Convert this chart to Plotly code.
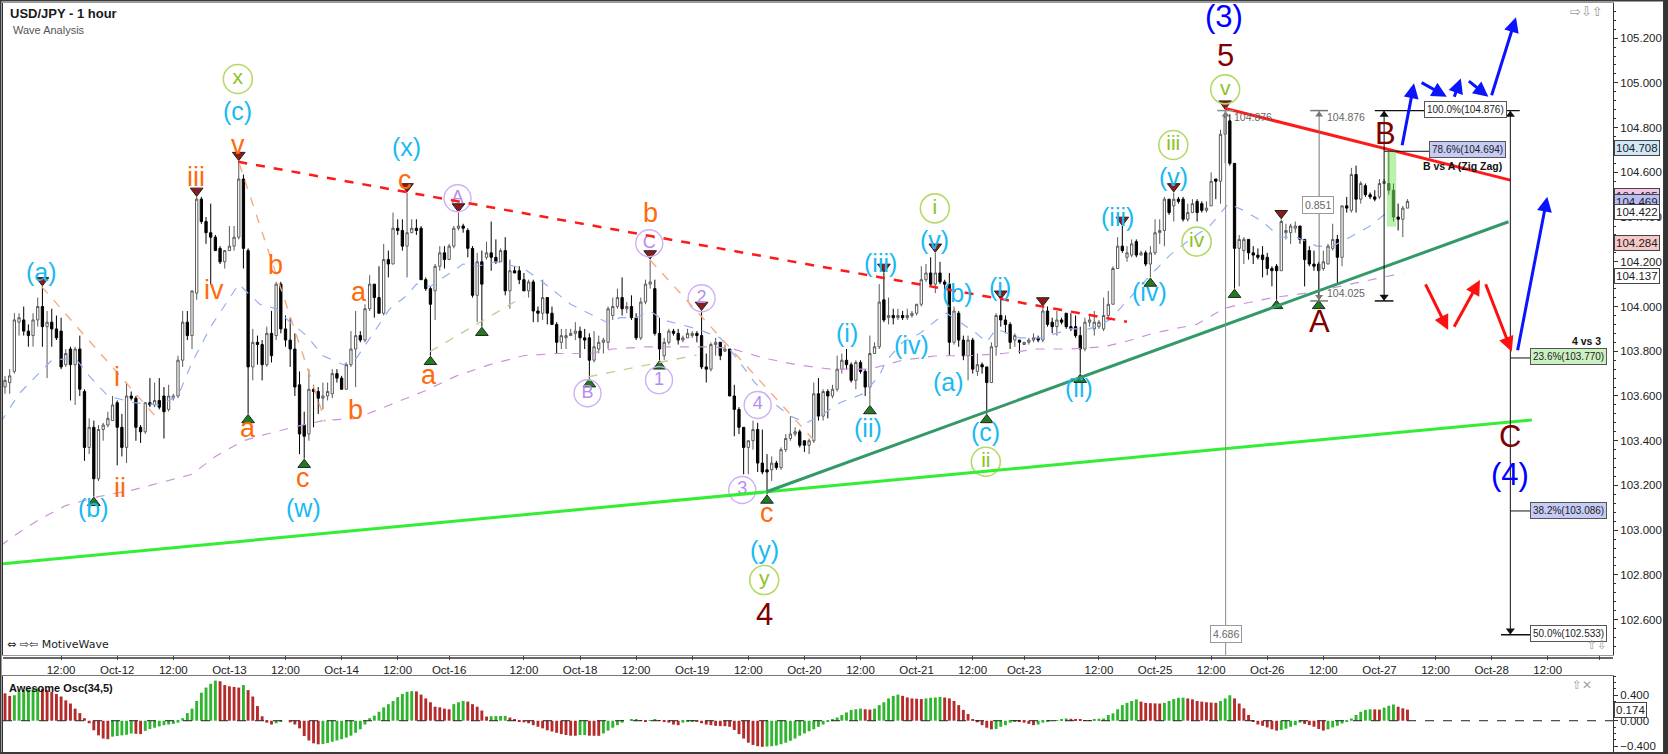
import plotly.graph_objects as go

FONT = "Liberation Sans, Arial, sans-serif"

# hourly bars, bar 0 = Oct-11 00:00 (weekend hours are left out, as on the platform)
opens = [
    103.64, 103.66, 103.71, 103.93, 103.94, 103.89, 103.87, 103.94, 104.00, 103.91,
    103.93, 103.90, 103.89, 103.74, 103.81, 103.74, 103.81, 103.62, 103.37, 103.46,
    103.23, 103.45, 103.47, 103.49, 103.57, 103.46, 103.37, 103.60, 103.59, 103.46,
    103.44, 103.57, 103.56, 103.58, 103.60, 103.54, 103.59, 103.60, 103.76, 103.93,
    103.87, 104.06, 104.48, 104.38, 104.33, 104.31, 104.26, 104.20, 104.25, 104.27,
    104.31, 104.57, 104.25, 103.73, 103.84, 103.83, 103.74, 103.88, 103.87, 104.10,
    103.90, 103.85, 103.81, 103.65, 103.47, 103.43, 103.63, 103.62, 103.59, 103.60,
    103.61, 103.70, 103.68, 103.63, 103.74, 103.81, 103.87, 103.85, 103.99, 104.10,
    104.04, 103.97, 104.21, 104.19, 104.35, 104.34, 104.27, 104.33, 104.35, 104.35,
    104.12, 104.08, 104.07, 104.18, 104.24, 104.21, 104.27, 104.35, 104.36, 104.34,
    104.26, 104.05, 104.20, 104.22, 104.24, 104.22, 104.20, 104.25, 104.07, 104.16,
    104.16, 104.12, 104.07, 104.11, 103.98, 103.97, 104.04, 103.97, 103.92, 103.84,
    103.86, 103.87, 103.88, 103.89, 103.86, 103.86, 103.76, 103.81, 103.84, 103.84,
    103.96, 104.00, 104.04, 103.99, 104.00, 103.95, 103.86, 104.02, 104.10, 104.08,
    103.88, 103.78, 103.84, 103.89, 103.88, 103.85, 103.86, 103.87, 103.88, 103.87,
    103.73, 103.72, 103.83, 103.84, 103.80, 103.81, 103.60, 103.54, 103.46, 103.37,
    103.40, 103.45, 103.30, 103.27, 103.27, 103.30, 103.28, 103.36, 103.41, 103.43,
    103.44, 103.40, 103.38, 103.40, 103.61, 103.51, 103.62, 103.60, 103.63, 103.72,
    103.76, 103.74, 103.67, 103.75, 103.71, 103.64, 103.79, 103.82, 104.03, 103.95,
    103.96, 103.95, 103.96, 103.95, 103.96, 103.97, 104.01, 104.12, 104.15, 104.10,
    104.15, 104.11, 104.10, 103.84, 103.97, 103.85, 103.78, 103.85, 103.71, 103.74,
    103.73, 103.66, 103.82, 103.96, 103.94, 103.92, 103.85, 103.85, 103.83, 103.84,
    103.85, 103.86, 103.85, 103.98, 103.93, 103.91, 103.94, 103.97, 103.91, 103.91,
    103.87, 103.81, 103.93, 103.90, 103.91, 103.90, 103.96, 104.01, 104.17, 104.27,
    104.22, 104.23, 104.29, 104.23, 104.24, 104.19, 104.24, 104.33, 104.34, 104.48,
    104.45, 104.48, 104.48, 104.39, 104.42, 104.47, 104.46, 104.43, 104.45, 104.57,
    104.56, 104.77, 104.83, 104.64, 104.26, 104.25, 104.30, 104.24, 104.23, 104.23,
    104.22, 104.17, 104.18, 104.16, 104.33, 104.33, 104.35, 104.36, 104.30, 104.25,
    104.19, 104.19, 104.17, 104.19, 104.26, 104.30, 104.22, 104.45, 104.43, 104.59,
    104.48, 104.54, 104.50, 104.49, 104.49, 104.55, 104.55, 104.52, 104.40, 104.39,
    104.44,
]
highs = [
    103.69, 103.72, 103.97, 103.97, 104.00, 103.92, 103.97, 104.04, 104.09, 103.98,
    103.99, 103.96, 103.95, 103.81, 103.82, 103.82, 103.87, 103.63, 103.50, 103.49,
    103.47, 103.48, 103.53, 103.60, 103.58, 103.52, 103.66, 103.62, 103.60, 103.47,
    103.57, 103.68, 103.66, 103.68, 103.64, 103.65, 103.61, 103.78, 103.98, 103.98,
    104.07, 104.49, 104.49, 104.40, 104.46, 104.32, 104.27, 104.25, 104.36, 104.36,
    104.65, 104.59, 104.26, 103.90, 103.87, 103.85, 103.91, 103.98, 104.11, 104.11,
    103.96, 103.95, 103.88, 103.71, 103.53, 103.72, 103.65, 103.64, 103.66, 103.66,
    103.72, 103.72, 103.69, 103.75, 103.89, 103.98, 103.89, 104.01, 104.14, 104.10,
    104.18, 104.28, 104.25, 104.42, 104.39, 104.39, 104.51, 104.39, 104.39, 104.36,
    104.13, 104.09, 104.19, 104.27, 104.27, 104.28, 104.36, 104.42, 104.37, 104.35,
    104.27, 104.24, 104.25, 104.29, 104.38, 104.30, 104.26, 104.31, 104.21, 104.18,
    104.18, 104.15, 104.12, 104.12, 104.00, 104.12, 104.04, 104.00, 103.93, 103.90,
    103.90, 103.90, 103.93, 103.91, 103.90, 103.88, 103.89, 103.87, 103.86, 104.00,
    104.04, 104.08, 104.13, 104.02, 104.05, 103.97, 104.04, 104.12, 104.21, 104.12,
    103.95, 103.86, 103.90, 103.90, 103.90, 103.87, 103.90, 103.89, 103.89, 103.98,
    103.79, 103.84, 103.86, 103.84, 103.83, 103.81, 103.65, 103.55, 103.46, 103.40,
    103.49, 103.48, 103.45, 103.34, 103.33, 103.31, 103.37, 103.43, 103.51, 103.46,
    103.45, 103.40, 103.41, 103.66, 103.68, 103.63, 103.63, 103.65, 103.78, 103.79,
    103.81, 103.75, 103.76, 103.76, 103.72, 103.87, 103.84, 104.10, 104.15, 104.04,
    103.99, 103.99, 103.98, 103.99, 103.98, 104.01, 104.18, 104.19, 104.22, 104.24,
    104.20, 104.12, 104.15, 104.00, 103.98, 103.87, 103.87, 103.86, 103.79, 103.75,
    103.73, 103.84, 103.97, 104.03, 103.96, 103.93, 103.88, 103.85, 103.84, 103.86,
    103.88, 103.87, 104.00, 104.00, 103.95, 103.98, 103.95, 103.97, 103.97, 103.96,
    103.91, 103.95, 103.96, 103.98, 103.94, 104.04, 104.07, 104.18, 104.31, 104.36,
    104.27, 104.30, 104.30, 104.25, 104.25, 104.27, 104.39, 104.39, 104.49, 104.48,
    104.51, 104.49, 104.49, 104.46, 104.48, 104.48, 104.47, 104.47, 104.60, 104.57,
    104.79, 104.88, 104.86, 104.64, 104.32, 104.31, 104.30, 104.27, 104.26, 104.27,
    104.24, 104.18, 104.19, 104.39, 104.37, 104.37, 104.38, 104.36, 104.30, 104.27,
    104.25, 104.20, 104.25, 104.28, 104.37, 104.32, 104.45, 104.49, 104.62, 104.63,
    104.56, 104.55, 104.51, 104.52, 104.57, 104.57, 104.69, 104.55, 104.46, 104.45,
    104.48,
]
lows = [
    103.61, 103.61, 103.70, 103.87, 103.87, 103.82, 103.82, 103.91, 103.82, 103.68,
    103.82, 103.85, 103.72, 103.73, 103.58, 103.56, 103.60, 103.31, 103.34, 103.15,
    103.22, 103.40, 103.46, 103.49, 103.29, 103.33, 103.30, 103.58, 103.40, 103.39,
    103.43, 103.55, 103.55, 103.54, 103.41, 103.53, 103.58, 103.59, 103.73, 103.85,
    103.81, 104.03, 104.37, 104.28, 104.10, 104.25, 104.19, 104.17, 104.25, 104.25,
    104.30, 104.17, 103.52, 103.67, 103.74, 103.67, 103.73, 103.75, 103.85, 103.88,
    103.82, 103.73, 103.60, 103.34, 103.32, 103.40, 103.46, 103.52, 103.54, 103.58,
    103.59, 103.66, 103.63, 103.63, 103.73, 103.64, 103.84, 103.84, 103.98, 103.95,
    103.97, 103.96, 104.13, 104.19, 104.32, 104.25, 104.13, 104.33, 104.32, 104.12,
    104.07, 103.78, 103.94, 104.16, 104.17, 104.21, 104.26, 104.34, 104.33, 104.22,
    104.04, 103.93, 103.91, 104.21, 104.16, 104.19, 104.20, 104.05, 103.99, 104.15,
    104.10, 104.07, 104.04, 103.93, 103.93, 103.94, 103.92, 103.92, 103.79, 103.81,
    103.81, 103.87, 103.85, 103.77, 103.81, 103.68, 103.75, 103.79, 103.79, 103.81,
    103.94, 103.99, 103.96, 103.97, 103.94, 103.85, 103.85, 104.01, 104.08, 103.87,
    103.76, 103.76, 103.83, 103.87, 103.83, 103.84, 103.86, 103.86, 103.84, 103.72,
    103.66, 103.71, 103.78, 103.76, 103.80, 103.60, 103.42, 103.43, 103.25, 103.25,
    103.36, 103.26, 103.25, 103.16, 103.22, 103.27, 103.27, 103.35, 103.40, 103.42,
    103.37, 103.35, 103.34, 103.39, 103.49, 103.49, 103.50, 103.59, 103.62, 103.70,
    103.72, 103.66, 103.63, 103.70, 103.60, 103.56, 103.79, 103.81, 103.93, 103.92,
    103.92, 103.94, 103.94, 103.94, 103.95, 103.96, 104.00, 104.11, 104.09, 104.06,
    104.10, 104.07, 103.78, 103.83, 103.82, 103.76, 103.67, 103.70, 103.69, 103.70,
    103.52, 103.66, 103.78, 103.91, 103.88, 103.81, 103.82, 103.79, 103.83, 103.83,
    103.84, 103.84, 103.84, 103.91, 103.88, 103.87, 103.92, 103.90, 103.89, 103.86,
    103.70, 103.80, 103.91, 103.87, 103.90, 103.89, 103.94, 104.01, 104.17, 104.24,
    104.20, 104.22, 104.22, 104.23, 104.18, 104.13, 104.23, 104.28, 104.27, 104.41,
    104.38, 104.46, 104.38, 104.38, 104.42, 104.38, 104.42, 104.42, 104.45, 104.48,
    104.46, 104.64, 104.63, 104.08, 104.09, 104.19, 104.21, 104.19, 104.21, 104.13,
    104.14, 104.09, 104.03, 104.16, 104.30, 104.28, 104.33, 104.28, 104.09, 104.18,
    104.16, 104.03, 104.16, 104.19, 104.25, 104.10, 104.18, 104.42, 104.42, 104.42,
    104.46, 104.49, 104.48, 104.47, 104.48, 104.55, 104.50, 104.38, 104.34, 104.31,
    104.44,
]
closes = [
    103.67, 103.69, 103.94, 103.95, 103.89, 103.87, 103.94, 104.00, 103.91, 103.93,
    103.90, 103.86, 103.73, 103.79, 103.74, 103.81, 103.63, 103.37, 103.46, 103.23,
    103.45, 103.47, 103.50, 103.56, 103.46, 103.37, 103.60, 103.59, 103.46, 103.44,
    103.57, 103.56, 103.58, 103.55, 103.53, 103.60, 103.60, 103.76, 103.93, 103.87,
    104.07, 104.48, 104.38, 104.33, 104.31, 104.25, 104.20, 104.25, 104.27, 104.31,
    104.57, 104.26, 103.73, 103.84, 103.83, 103.74, 103.88, 103.78, 104.10, 103.90,
    103.85, 103.81, 103.64, 103.43, 103.42, 103.63, 103.62, 103.59, 103.60, 103.62,
    103.70, 103.68, 103.63, 103.74, 103.81, 103.87, 103.85, 103.99, 104.10, 104.04,
    103.97, 104.21, 104.19, 104.35, 104.34, 104.27, 104.33, 104.35, 104.34, 104.12,
    104.08, 104.01, 104.18, 104.24, 104.21, 104.27, 104.35, 104.36, 104.35, 104.26,
    104.05, 104.20, 104.10, 104.24, 104.22, 104.20, 104.25, 104.07, 104.16, 104.15,
    104.12, 104.07, 104.11, 103.98, 103.97, 104.04, 103.97, 103.92, 103.84, 103.87,
    103.87, 103.88, 103.89, 103.86, 103.85, 103.76, 103.82, 103.84, 103.85, 103.99,
    104.00, 104.04, 103.99, 104.00, 103.95, 103.86, 104.02, 104.10, 104.11, 103.88,
    103.81, 103.84, 103.89, 103.88, 103.85, 103.86, 103.88, 103.88, 103.87, 103.73,
    103.72, 103.83, 103.84, 103.78, 103.81, 103.60, 103.54, 103.46, 103.37, 103.40,
    103.45, 103.30, 103.26, 103.26, 103.30, 103.28, 103.36, 103.41, 103.43, 103.44,
    103.38, 103.38, 103.40, 103.61, 103.51, 103.62, 103.60, 103.63, 103.72, 103.76,
    103.74, 103.67, 103.75, 103.71, 103.64, 103.79, 103.82, 104.02, 103.94, 103.96,
    103.95, 103.96, 103.95, 103.96, 103.97, 104.01, 104.12, 104.15, 104.10, 104.15,
    104.11, 104.10, 103.84, 103.98, 103.85, 103.78, 103.85, 103.72, 103.74, 103.73,
    103.66, 103.82, 103.96, 103.94, 103.92, 103.84, 103.87, 103.84, 103.84, 103.85,
    103.86, 103.85, 103.98, 103.92, 103.91, 103.94, 103.93, 103.91, 103.90, 103.87,
    103.81, 103.93, 103.94, 103.93, 103.93, 103.96, 104.01, 104.17, 104.27, 104.25,
    104.24, 104.28, 104.23, 104.24, 104.19, 104.24, 104.33, 104.34, 104.48, 104.42,
    104.48, 104.47, 104.39, 104.42, 104.46, 104.42, 104.43, 104.44, 104.56, 104.56,
    104.77, 104.85, 104.64, 104.26, 104.30, 104.30, 104.24, 104.23, 104.22, 104.21,
    104.17, 104.16, 104.16, 104.38, 104.34, 104.36, 104.36, 104.30, 104.21, 104.19,
    104.18, 104.16, 104.20, 104.27, 104.30, 104.22, 104.45, 104.44, 104.59, 104.48,
    104.55, 104.50, 104.49, 104.48, 104.55, 104.56, 104.52, 104.40, 104.39, 104.44,
    104.47,
]

# Awesome Oscillator (34,5), one value per bar
ao = [
    0.43, 0.39, 0.40, 0.45, 0.48, 0.49, 0.50, 0.51, 0.50, 0.48,
    0.45, 0.42, 0.38, 0.32, 0.27, 0.19, 0.12, 0.04, -0.04, -0.15,
    -0.23, -0.28, -0.29, -0.25, -0.24, -0.23, -0.22, -0.20, -0.205, -0.21,
    -0.16, -0.13, -0.11, -0.09, -0.07, -0.06, -0.05, -0.03, 0.04, 0.12,
    0.19, 0.31, 0.44, 0.52, 0.58, 0.63, 0.62, 0.56, 0.54, 0.53,
    0.52, 0.56, 0.48, 0.38, 0.23, 0.07, -0.03, -0.06, -0.04, -0.015,
    0.0, -0.025, -0.06, -0.12, -0.24, -0.31, -0.355, -0.37, -0.365, -0.35,
    -0.33, -0.31, -0.29, -0.265, -0.235, -0.19, -0.135, -0.06, 0.04, 0.08,
    0.14, 0.21, 0.26, 0.31, 0.37, 0.42, 0.455, 0.465, 0.46, 0.41,
    0.35, 0.29, 0.22, 0.21, 0.19, 0.18, 0.26, 0.29, 0.31, 0.30,
    0.26, 0.22, 0.16, 0.065, 0.07, 0.072, 0.074, 0.076, 0.05, 0.02,
    -0.005, -0.025, -0.04, -0.07, -0.095, -0.12, -0.15, -0.17, -0.19, -0.21,
    -0.225, -0.235, -0.236, -0.225, -0.224, -0.235, -0.236, -0.237, -0.20, -0.155,
    -0.11, -0.07, -0.03, 0.0, 0.015, 0.02, 0.01, -0.015, 0.01, 0.02,
    0.01, -0.015, -0.03, -0.06, -0.07, -0.03, -0.015, -0.005, -0.02, -0.04,
    -0.06, -0.07, -0.08, -0.085, -0.086, -0.095, -0.145, -0.21, -0.28, -0.345,
    -0.38, -0.40, -0.41, -0.405, -0.40, -0.39, -0.37, -0.345, -0.315, -0.28,
    -0.235, -0.20, -0.165, -0.135, -0.095, -0.06, -0.015, 0.02, 0.05, 0.09,
    0.13, 0.17, 0.18, 0.19, 0.18, 0.175, 0.19, 0.245, 0.29, 0.35,
    0.39, 0.41, 0.39, 0.365, 0.35, 0.345, 0.34, 0.35, 0.36, 0.365,
    0.375, 0.365, 0.35, 0.31, 0.245, 0.17, 0.105, 0.02, -0.025, -0.07,
    -0.11, -0.135, -0.13, -0.095, -0.07, -0.03, -0.005, -0.015, -0.03, -0.05,
    -0.07, -0.06, -0.03, -0.015, 0.0, 0.01, 0.025, 0.035, 0.03, 0.025,
    0.02, 0.01, 0.005, 0.02, 0.03, 0.035, 0.09, 0.115, 0.18, 0.245,
    0.28, 0.31, 0.335, 0.30, 0.28, 0.275, 0.272, 0.27, 0.28, 0.31,
    0.34, 0.36, 0.362, 0.35, 0.335, 0.31, 0.30, 0.29, 0.285, 0.28,
    0.31, 0.35, 0.40, 0.35, 0.27, 0.195, 0.09, -0.015, -0.06, -0.08,
    -0.105, -0.135, -0.155, -0.145, -0.125, -0.095, -0.07, -0.03, -0.05, -0.07,
    -0.095, -0.13, -0.155, -0.135, -0.105, -0.08, -0.045, -0.015, 0.035, 0.09,
    0.14, 0.17, 0.18, 0.178, 0.175, 0.205, 0.235, 0.255, 0.22, 0.195,
    0.174,
]

# time axis: bar index of each label
tick_bars = [12, 24, 36, 48, 60, 72, 84, 95, 111, 123, 135, 147, 159, 171,
             183, 195, 207, 218, 234, 246, 258, 270, 282, 294, 306, 318, 330, 341]
tick_labels = ["12:00", "Oct-12", "12:00", "Oct-13", "12:00", "Oct-14", "12:00",
               "Oct-16", "12:00", "Oct-18", "12:00", "Oct-19", "12:00", "Oct-20",
               "12:00", "Oct-21", "12:00", "Oct-23", "12:00", "Oct-25", "12:00",
               "Oct-26", "12:00", "Oct-27", "12:00", "Oct-28", "12:00", ""]

# moving averages
ma_fast_bars = [-1, 3, 10, 15, 18, 22, 27.5, 33, 37, 40, 44, 47.4, 50, 54.5, 58, 61,
                64.5, 68, 72.4, 75.2, 78.8, 82.3, 86, 88, 91, 93.7, 98, 101, 105, 111,
                115, 121, 125, 128.7, 131.6, 135, 138, 140.8, 144.4, 148, 153, 156.5,
                160, 164.3, 168, 171.5, 175, 178.6, 183.6, 187, 188.6, 192, 195.7,
                199.3, 201.4, 205, 207.8, 210, 212, 217, 222, 227.8, 232, 236.3, 240.6,
                245, 249.2, 253.5, 257.7, 261.7, 264.9, 269, 272.7, 276.3, 280.6, 284,
                287.7, 292, 296.2]
ma_fast_vals = [103.48, 103.61, 103.76, 103.77, 103.69, 103.60, 103.57, 103.56, 103.60,
                103.75, 103.91, 104.02, 104.10, 104.01, 103.99, 103.93, 103.87, 103.78,
                103.74, 103.77, 103.88, 103.99, 104.05, 104.10, 104.09, 104.13, 104.19,
                104.18, 104.20, 104.17, 104.11, 104.01, 103.97, 103.93, 103.95, 103.95,
                103.98, 103.94, 103.92, 103.90, 103.86, 103.77, 103.67, 103.57, 103.51,
                103.48, 103.52, 103.57, 103.61, 103.69, 103.76, 103.84, 103.88, 103.94,
                103.97, 103.92, 103.88, 103.84, 103.90, 103.86, 103.86, 103.90, 103.90,
                103.94, 104.04, 104.14, 104.23, 104.30, 104.36, 104.46, 104.43, 104.38,
                104.31, 104.31, 104.27, 104.27, 104.31, 104.36, 104.43]
ma_slow_bars = [-1, 3, 7.5, 13, 20, 27.4, 34.6, 40, 45, 51, 56, 61.6, 68, 75.2, 82.3,
                89.5, 96.6, 103.7, 110.9, 118, 125, 130, 137.3, 144.4, 151.5, 155.8,
                162.2, 169.3, 176.5, 185, 192, 199.3, 206.4, 213.5, 220.7, 227.8, 234.9,
                239.2, 245.6, 250, 254.9, 260.6, 264.2, 271.3, 278.4, 285.5, 292.7, 299.1]
ma_slow_vals = [102.93, 102.99, 103.05, 103.11, 103.15, 103.18, 103.22, 103.25, 103.33,
                103.40, 103.43, 103.46, 103.49, 103.50, 103.56, 103.62, 103.69, 103.74,
                103.78, 103.79, 103.79, 103.81, 103.82, 103.82, 103.82, 103.81, 103.77,
                103.74, 103.72, 103.72, 103.76, 103.78, 103.78, 103.79, 103.81, 103.81,
                103.82, 103.84, 103.88, 103.90, 103.92, 103.99, 104.01, 104.04, 104.06,
                104.09, 104.12, 104.15]

swing_high_bars = [8, 41, 50, 86, 97, 138, 149, 188, 199, 213, 222, 239, 250, 261, 273]
swing_low_bars = [19, 52, 64, 91, 102, 125, 140, 163, 185, 210, 230, 245, 263, 272, 281]

# wave labels: (text, bar, price)
cyan_labels = [("(a)", 7.9, 104.154), ("(b)", 18.9, 103.098), ("(c)", 49.8, 104.874),
               ("(w)", 63.8, 103.098), ("(x)", 85.8, 104.714), ("(y)", 162.4, 102.911),
               ("(i)", 180.0, 103.880), ("(ii)", 184.7, 103.455), ("(iii)", 187.2, 104.193),
               ("(iv)", 194.0, 103.828), ("(v)", 198.9, 104.297), ("(a)", 201.9, 103.664),
               ("(b)", 203.7, 104.059), ("(c)", 209.8, 103.440), ("(i)", 212.8, 104.089),
               ("(ii)", 229.8, 103.634), ("(iii)", 237.9, 104.401), ("(iv)", 244.9, 104.066),
               ("(v)", 249.9, 104.580)]
orange_labels = [("i", 23.9, 103.686), ("ii", 24.7, 103.187), ("iii", 40.9, 104.580),
                 ("iv", 44.8, 104.074), ("v", 49.8, 104.722), ("a", 52.0, 103.455),
                 ("b", 57.8, 104.186), ("c", 63.8, 103.232), ("a", 75.8, 104.066),
                 ("b", 74.9, 103.537), ("c", 85.6, 104.565), ("a", 90.8, 103.694),
                 ("b", 138.0, 104.417), ("c", 162.9, 103.076)]
green_circles = [("x", 49.8, 105.017), ("y", 162.4, 102.777), ("i", 198.9, 104.439),
                 ("ii", 209.8, 103.306), ("iii", 249.9, 104.722), ("iv", 254.9, 104.290),
                 ("v", 261.0, 104.971)]
purple_circles = [("A", 96.8, 104.484), ("B", 124.6, 103.612), ("C", 137.8, 104.283),
                  ("1", 139.9, 103.671), ("2", 149.0, 104.037), ("3", 157.7, 103.180),
                  ("4", 161.0, 103.560)]
big_labels = [("(3)", 260.8, 105.296, "#0000ff"), ("5", 261.0, 105.124, "#800000"),
              ("4", 162.4, 102.621, "#800000"), ("A", 281.1, 103.932, "#800000"),
              ("B", 295.2, 104.774, "#800000"), ("C", 321.9, 103.418, "#800000"),
              ("(4)", 321.9, 103.251, "#0000ff")]

# projected paths: (tail, head)
blue_arrows = [((298.8, 104.714), (301.4, 104.998)), ((302.7, 105.005), (308.4, 104.938)),
               ((309.9, 104.931), (311.4, 105.020)), ((312.8, 105.013), (317.3, 104.938)),
               ((317.9, 104.938), (323.2, 105.293)), ((323.5, 103.798), (329.9, 104.491))]
red_arrows = [((303.7, 104.106), (308.7, 103.895)), ((309.8, 103.903), (315.5, 104.119)),
              ((316.6, 104.106), (322.3, 103.798))]

# fib levels: (text, bar, price, box colour)
fib_boxes = [("100.0%(104.876)", 312.4, 104.882, "#ffffff"),
             ("78.6%(104.694)", 312.8, 104.700, "#c6ccf6"),
             ("23.6%(103.770)", 334.4, 103.776, "#cbf1c2"),
             ("38.2%(103.086)", 334.4, 103.090, "#c6ccf6"),
             ("50.0%(102.533)", 334.4, 102.539, "#ffffff")]
axis_flags = [("104.708", "#cfe7f8"), ("104.495", "#f3c6e6"), ("104.469", "#b9bdf5"),
              ("104.422", "#ffffff"), ("104.284", "#f6c8c8"), ("104.137", "#ffffff")]

W, H = 1668, 754
ML, MR, MT, MB = 3, 55, 3, 2


def px(x):
    return (x - ML) / (W - ML - MR)


def py(y):
    return (H - MB - y) / (H - MT - MB)


bars = list(range(len(closes)))
ao_colors = ["#b52b2b"] + ["#2fb52f" if ao[k] > ao[k - 1] else "#b52b2b" for k in range(1, len(ao))]

fig = go.Figure()

fig.add_trace(go.Scatter(x=ma_slow_bars, y=ma_slow_vals, mode="lines",
                         line=dict(color="#c993d6", width=1.2, dash="dash"), hoverinfo="skip"))
fig.add_trace(go.Scatter(x=ma_fast_bars, y=ma_fast_vals, mode="lines",
                         line=dict(color="#93aef2", width=1.2, dash="dash"), hoverinfo="skip"))

fig.add_trace(go.Candlestick(
    x=bars, open=opens, high=highs, low=lows, close=closes,
    increasing=dict(line=dict(color="#5a5a5a", width=1), fillcolor="#ffffff"),
    decreasing=dict(line=dict(color="#000000", width=1), fillcolor="#000000"),
    whiskerwidth=0, hoverinfo="skip", showlegend=False))

fig.add_trace(go.Bar(x=bars, y=ao, marker=dict(color=ao_colors, line=dict(width=0)),
                     width=0.62, xaxis="x2", yaxis="y2", hoverinfo="skip"))

shapes = []


def seg(x0, y0, x1, y1, color, width=1.0, dash="solid"):
    shapes.append(dict(type="line", xref="x", yref="y", x0=x0, y0=y0, x1=x1, y1=y1,
                       line=dict(color=color, width=width, dash=dash)))


# trend lines and channel
seg(-1.07, 102.849, 326.6, 103.493, "#33ee33", 3)
seg(162.9, 103.172, 321.6, 104.379, "#339966", 3)
seg(49.9, 104.647, 240.0, 103.932, "#ff1a1a", 2.5, "dash")
seg(261.0, 104.886, 322.0, 104.565, "#ff1a1a", 3)
for a, b in [((7.85, 104.089), (33.2, 103.485)), ((50.1, 104.640), (68.5, 103.485)),
             ((138.0, 104.208), (174.3, 103.373))]:
    seg(a[0], a[1], b[0], b[1], "#f6ab80", 1.4, "dash")
for a, b in [((90.9, 103.798), (110.9, 104.044)), ((124.8, 103.686), (147.9, 103.783))]:
    seg(a[0], a[1], b[0], b[1], "#cbcb9a", 1.4, "dash")

# measuring tools
seg(261.1, 104.876, 261.1, 102.442, "#8c8c8c", 1)
seg(259.3, 104.876, 262.9, 104.876, "#8c8c8c", 1.5)
seg(281.1, 104.876, 281.1, 104.025, "#777777", 1)
seg(279.2, 104.876, 283.0, 104.876, "#777777", 1.5)
seg(279.2, 104.025, 283.0, 104.025, "#777777", 1.5)
seg(295.0, 104.876, 295.0, 104.025, "#111111", 1)
seg(293.0, 104.025, 297.0, 104.025, "#111111", 1.5)
seg(293.0, 104.876, 324.0, 104.876, "#111111", 1.2)
seg(295.0, 104.694, 305.0, 104.694, "#111111", 1)
seg(322.0, 104.876, 322.0, 102.533, "#111111", 1)
seg(320.0, 102.533, 327.0, 102.533, "#111111", 1.5)
seg(322.0, 103.770, 327.0, 103.770, "#111111", 1)
seg(322.0, 103.086, 327.0, 103.086, "#111111", 1)

shapes.append(dict(type="rect", xref="x", yref="y", x0=295.6, x1=297.6, y0=104.357, y1=104.692,
                   fillcolor="rgba(130,230,110,0.55)", line=dict(width=0)))
shapes.append(dict(type="line", xref="x2 domain", yref="y2", x0=0, x1=1, y0=0, y1=0,
                   line=dict(color="#222222", width=1, dash="dash")))
# black base line under the price panel and window frame
shapes.append(dict(type="line", xref="paper", yref="paper", x0=0, x1=1, y0=py(658), y1=py(658),
                   line=dict(color="#333333", width=1.5)))
shapes.append(dict(type="rect", xref="paper", yref="paper", x0=px(0.5), x1=px(1664), y0=py(753),
                   y1=py(0.5), line=dict(color="#3a3a3a", width=2)))
shapes.append(dict(type="rect", xref="paper", yref="paper", x0=px(1664), x1=px(1668), y0=py(754),
                   y1=py(0), fillcolor="#333333", line=dict(width=0)))

# swing markers
fig.add_trace(go.Scatter(x=swing_high_bars, y=[highs[k] + 0.027 for k in swing_high_bars],
                         mode="markers", hoverinfo="skip",
                         marker=dict(symbol="triangle-down", size=11, color="#8b1a1a",
                                     line=dict(color="#222222", width=1))))
fig.add_trace(go.Scatter(x=swing_low_bars, y=[lows[k] - 0.027 for k in swing_low_bars],
                         mode="markers", hoverinfo="skip",
                         marker=dict(symbol="triangle-up", size=11, color="#1f7d1f",
                                     line=dict(color="#222222", width=1))))

# arrow heads of the measuring tools
fig.add_trace(go.Scatter(x=[295.0, 322.0], y=[104.857, 104.857], mode="markers", hoverinfo="skip",
                         marker=dict(symbol="triangle-up", size=8, color="#111111")))
fig.add_trace(go.Scatter(x=[295.0, 322.0], y=[104.044, 102.552], mode="markers", hoverinfo="skip",
                         marker=dict(symbol="triangle-down", size=8, color="#111111")))
fig.add_trace(go.Scatter(x=[261.1, 281.1], y=[104.857, 104.857], mode="markers", hoverinfo="skip",
                         marker=dict(symbol="triangle-up", size=7, color="#777777")))
fig.add_trace(go.Scatter(x=[281.1], y=[104.044], mode="markers", hoverinfo="skip",
                         marker=dict(symbol="triangle-down", size=7, color="#777777")))

# circled labels
fig.add_trace(go.Scatter(x=[c[1] for c in green_circles], y=[c[2] for c in green_circles],
                         text=[c[0] for c in green_circles], mode="markers+text",
                         textposition="middle center", hoverinfo="skip", cliponaxis=False,
                         textfont=dict(family=FONT, size=21, color="#8cc21e"),
                         marker=dict(symbol="circle-open", size=29,
                                     line=dict(color="#b5da6a", width=1.6), color="#b5da6a")))
fig.add_trace(go.Scatter(x=[c[1] for c in purple_circles], y=[c[2] for c in purple_circles],
                         text=[c[0] for c in purple_circles], mode="markers+text",
                         textposition="middle center", hoverinfo="skip", cliponaxis=False,
                         textfont=dict(family=FONT, size=18, color="#b48cf0"),
                         marker=dict(symbol="circle-open", size=27,
                                     line=dict(color="#cdb0f6", width=1.4), color="#cdb0f6")))

annotations = []


def text(t, x, y, color, size, xref="x", yref="y", xanchor="center", family=FONT, **kw):
    annotations.append(dict(text=t, x=x, y=y, xref=xref, yref=yref, showarrow=False,
                            xanchor=xanchor, yanchor="middle",
                            font=dict(family=family, size=size, color=color), **kw))


for t, x, y in cyan_labels:
    text(t, x, y, "#1ab9f2", 25)
for t, x, y in orange_labels:
    text(t, x, y, "#ff6a0d", 27)
for t, x, y, c in big_labels:
    text(t, x, y, c, 31)

for (tx, ty), (hx, hy) in blue_arrows:
    annotations.append(dict(x=hx, y=hy, ax=tx, ay=ty, xref="x", yref="y", axref="x", ayref="y",
                            showarrow=True, arrowhead=2, arrowsize=1, arrowwidth=3,
                            arrowcolor="#0a14ff", text=""))
for (tx, ty), (hx, hy) in red_arrows:
    annotations.append(dict(x=hx, y=hy, ax=tx, ay=ty, xref="x", yref="y", axref="x", ayref="y",
                            showarrow=True, arrowhead=2, arrowsize=1, arrowwidth=3,
                            arrowcolor="#ff1010", text=""))

text("104.876", 262.4, 104.848, "#666666", 10.5, xanchor="left")
text("104.876", 282.4, 104.846, "#666666", 10.5, xanchor="left")
text("104.025", 282.4, 104.062, "#666666", 10.5, xanchor="left")
text("0.851", 280.9, 104.454, "#666666", 10.5, bgcolor="#ffffff", bordercolor="#999999",
     borderwidth=1, borderpad=2)
text("4.686", 261.1, 102.536, "#666666", 10.5, bgcolor="#ffffff", bordercolor="#999999",
     borderwidth=1, borderpad=2)
for t, x, y, bg in fib_boxes:
    text(t, x, y, "#222222", 10, bgcolor=bg, bordercolor="#555555", borderwidth=1, borderpad=2)
text("<b>B vs A (Zig Zag)</b>", 320.6, 104.628, "#111111", 10.5, xanchor="right")
text("<b>4 vs 3</b>", 341.8, 103.847, "#111111", 10.5, xanchor="right")

for t, bg in axis_flags:
    text(t, 1.0, float(t), "#222222", 11.5, xref="paper", xanchor="left", xshift=1,
         bgcolor=bg, bordercolor="#444444", borderwidth=1, borderpad=1)
text("0.174", 1.0, 0.174, "#222222", 11.5, xref="paper", yref="y2", xanchor="left", xshift=1,
     bgcolor="#ffffff", bordercolor="#444444", borderwidth=1, borderpad=1)

# chart furniture
text("<b>USD/JPY - 1 hour</b>", px(8), py(13), "#1a1a1a", 13, xref="paper", yref="paper",
     xanchor="left")
text("Wave Analysis", px(11), py(30), "#555555", 11, xref="paper", yref="paper", xanchor="left")
text("⇔ ⇨⇦ MotiveWave", px(5), py(644), "#222222", 11, xref="paper", yref="paper",
     xanchor="left", family="DejaVu Sans")
text("<b>Awesome Osc(34,5)</b>", px(7), py(688), "#111111", 11, xref="paper", yref="paper",
     xanchor="left")
text("⇨⇩⇧", px(1568), py(11), "#9a9a9a", 13, xref="paper", yref="paper", xanchor="left",
     family="DejaVu Sans")
text("⇧⇩", px(1585), py(645), "#a0a0a0", 12, xref="paper", yref="paper", xanchor="left",
     family="DejaVu Sans")
text("⇧✕", px(1570), py(685), "#a0a0a0", 12, xref="paper", yref="paper", xanchor="left",
     family="DejaVu Sans")

fig.update_layout(
    template="none",
    width=W, height=H,
    margin=dict(l=ML, r=MR, t=MT, b=MB, autoexpand=False),
    paper_bgcolor="#ffffff", plot_bgcolor="#ffffff",
    showlegend=False, hovermode=False,
    font=dict(family=FONT, size=12, color="#222222"),
    shapes=shapes, annotations=annotations,
    xaxis=dict(domain=[0, 1], anchor="y", range=[-0.43, 343.96], automargin=False,
               tickmode="array", tickvals=tick_bars, ticktext=tick_labels,
               ticks="outside", ticklen=4, tickcolor="#555555",
               tickfont=dict(size=11.5, color="#222222"),
               showgrid=False, zeroline=False, showline=True, linecolor="#9a9a9a",
               mirror=True, rangeslider=dict(visible=False)),
    yaxis=dict(domain=[py(655), 1], anchor="x", range=[102.442, 105.357], side="right",
               automargin=False, tickmode="linear", tick0=102.6, dtick=0.2,
               tickformat=".3f", ticks="outside", ticklen=4,
               tickcolor="#333333", tickfont=dict(size=11.5, color="#222222"),
               minor=dict(dtick=0.04, ticks="outside", ticklen=2, tickcolor="#333333"),
               showgrid=False, zeroline=False, showline=True, linecolor="#333333",
               mirror=True),
    xaxis2=dict(domain=[0, 1], anchor="y2", matches="x", showticklabels=False, ticks="",
                automargin=False, showgrid=False, zeroline=False, showline=True,
                linecolor="#777777", mirror=True),
    yaxis2=dict(domain=[0, py(676)], anchor="x2", range=[-0.491, 0.702], side="right",
                automargin=False, tickmode="array", tickvals=[-0.4, 0.0, 0.4],
                tickformat=".3f", ticks="outside", ticklen=4,
                tickcolor="#333333", tickfont=dict(size=11.5, color="#222222"),
                minor=dict(dtick=0.1, ticks="outside", ticklen=2, tickcolor="#333333"),
                showgrid=False, zeroline=False, showline=True, linecolor="#333333",
                mirror=True),
)

# the page body has a default 8px margin that would push the chart out of the window
fig.write_html("out.html", config={"displayModeBar": False},
               post_script="document.body.style.margin='0px';document.body.style.overflow='hidden';")
